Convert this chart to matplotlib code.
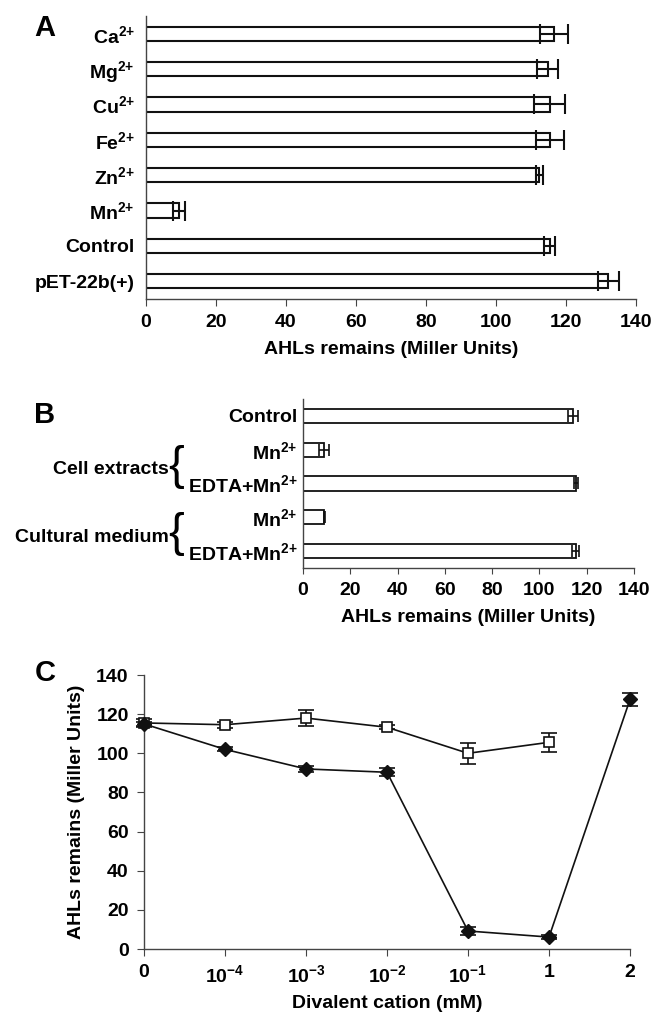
import matplotlib
matplotlib.use("Agg")
import matplotlib.pyplot as plt
import numpy as np

plt.rcParams['font.family'] = ['Liberation Sans', 'DejaVu Sans']
plt.rcParams['font.weight'] = 'bold'
plt.rcParams['mathtext.fontset'] = 'custom'
plt.rcParams['mathtext.rm'] = 'Liberation Sans:bold'
plt.rcParams['mathtext.it'] = 'Liberation Sans:bold'
plt.rcParams['mathtext.bf'] = 'Liberation Sans:bold'
plt.rcParams['mathtext.sf'] = 'Liberation Sans:bold'
plt.rcParams['mathtext.default'] = 'rm'

# ---- Panel A data ----
a_labels = ['Ca$^{2{+}}$', 'Mg$^{2{+}}$', 'Cu$^{2{+}}$', 'Fe$^{2{+}}$', 'Zn$^{2{+}}$', 'Mn$^{2{+}}$',
            'Control', 'pET-22b(+)']
a_values = [116.5, 114.8, 115.3, 115.3, 112.4, 9.3, 115.3, 132.1]
a_errors = [4.0, 3.0, 4.5, 4.0, 1.0, 1.7, 1.5, 3.0]

# ---- Panel B data ----
b_labels = ['Control', 'Mn$^{2{+}}$', 'EDTA+Mn$^{2{+}}$', 'Mn$^{2{+}}$', 'EDTA+Mn$^{2{+}}$']
b_values = [114.2, 8.8, 115.6, 9.0, 115.3]
b_errors = [2.0, 2.0, 0.8, 0.2, 1.5]
b_groups = ['Cell extracts', 'Cultural medium']

# ---- Panel C data ----
c_xlabels = ['0', '10$^{-4}$', '10$^{-3}$', '10$^{-2}$', '10$^{-1}$', '1', '2']
c_square = [115.5, 114.6, 118.0, 113.3, 100.0, 105.6]
c_square_err = [2.0, 1.5, 4.0, 1.0, 5.5, 5.0]
c_diamond = [115.0, 102.0, 92.0, 90.3, 9.2, 6.1, 127.5]
c_diamond_err = [1.0, 1.0, 1.5, 2.0, 2.0, 1.0, 3.5]

W, H = 654, 1015
fig = plt.figure(figsize=(W / 100, H / 100), dpi=100)

def fx(px):
    return px / W

def fy(py):
    return 1 - py / H

spine_col = '#444444'
fs = 14

def style_axes(ax):
    for s in ['top', 'right']:
        ax.spines[s].set_visible(False)
    for s in ['left', 'bottom']:
        ax.spines[s].set_color(spine_col)
        ax.spines[s].set_linewidth(1.0)

# ---- Panel A ----
axA = fig.add_axes([fx(146), fy(299), fx(636) - fx(146), fy(16) - fy(299)])
yA = np.arange(len(a_labels))
axA.barh(yA, a_values, height=0.4, color='white', edgecolor='#111111', linewidth=1.5,
         xerr=a_errors, error_kw=dict(ecolor='#111111', elinewidth=1.5, capsize=7, capthick=1.5))
axA.set_ylim(len(a_labels) - 0.5, -0.5)
axA.set_xlim(0, 140)
axA.set_xticks(np.arange(0, 141, 20))
axA.set_yticks(yA)
axA.set_yticklabels(a_labels)
axA.tick_params(axis='y', length=0, pad=8, labelsize=fs)
axA.tick_params(axis='x', direction='out', length=5, color=spine_col, labelsize=fs, pad=6)
style_axes(axA)
axA.set_xlabel('AHLs remains (Miller Units)', fontsize=fs, fontweight='bold', labelpad=7)
fig.text(fx(45), fy(28), 'A', fontsize=21, fontweight='bold', ha='center', va='center')

# ---- Panel B ----
axB = fig.add_axes([fx(303), fy(568), fx(634) - fx(303), fy(399) - fy(568)])
yB = np.arange(len(b_labels))
axB.barh(yB, b_values, height=0.42, color='white', edgecolor='#111111', linewidth=1.3,
         xerr=b_errors, error_kw=dict(ecolor='#111111', elinewidth=1.2, capsize=4, capthick=1.2))
axB.set_ylim(len(b_labels) - 0.5, -0.5)
axB.set_xlim(0, 140)
axB.set_xticks(np.arange(0, 141, 20))
axB.set_yticks(yB)
axB.set_yticklabels(b_labels)
axB.tick_params(axis='y', length=0, pad=4, labelsize=fs)
axB.tick_params(axis='x', direction='out', length=4, color=spine_col, labelsize=fs, pad=6)
style_axes(axB)
axB.set_xlabel('AHLs remains (Miller Units)', fontsize=fs, fontweight='bold', labelpad=7)
fig.text(fx(45), fy(415), 'B', fontsize=21, fontweight='bold', ha='center', va='center')

# group labels with braces
for grp, (i0, i1) in zip(b_groups, [(1, 2), (3, 4)]):
    yc = (i0 + i1) / 2
    axB.annotate(grp, xy=(0, yc), xycoords=('axes fraction', 'data'),
                 xytext=(-(303 - 169), -3), textcoords='offset pixels',
                 ha='right', va='center', fontsize=fs, fontweight='bold')
    axB.annotate('{', xy=(0, yc), xycoords=('axes fraction', 'data'),
                 xytext=(-(303 - 176), 0), textcoords='offset pixels',
                 ha='center', va='center', fontsize=34, fontweight='normal',
                 family='Liberation Sans')

# ---- Panel C ----
axC = fig.add_axes([fx(144), fy(949), fx(630) - fx(144), fy(675) - fy(949)])
xC = np.arange(len(c_xlabels))
axC.errorbar(xC[:len(c_square)], c_square, yerr=c_square_err, color='#111111', lw=1.2,
             marker='s', markersize=7, markerfacecolor='white', markeredgecolor='#111111',
             markeredgewidth=1.2, capsize=6, elinewidth=1.2, capthick=1.2, clip_on=False, zorder=3)
axC.errorbar(xC, c_diamond, yerr=c_diamond_err, color='#111111', lw=1.2,
             marker='D', markersize=7, markerfacecolor='#111111', markeredgecolor='#111111',
             capsize=6, elinewidth=1.2, capthick=1.2, clip_on=False, zorder=4)
axC.set_xlim(0, len(c_xlabels) - 1)
axC.set_ylim(0, 140)
axC.set_yticks(np.arange(0, 141, 20))
axC.set_xticks(xC)
axC.set_xticklabels(c_xlabels)
axC.tick_params(axis='both', direction='out', length=5, color=spine_col, labelsize=fs, pad=6)
style_axes(axC)
axC.set_xlabel('Divalent cation (mM)', fontsize=fs, fontweight='bold', labelpad=6)
axC.set_ylabel('AHLs remains (Miller Units)', fontsize=fs, fontweight='bold', labelpad=8)
fig.text(fx(45), fy(673), 'C', fontsize=21, fontweight='bold', ha='center', va='center')

fig.savefig('out.png', dpi=100)
